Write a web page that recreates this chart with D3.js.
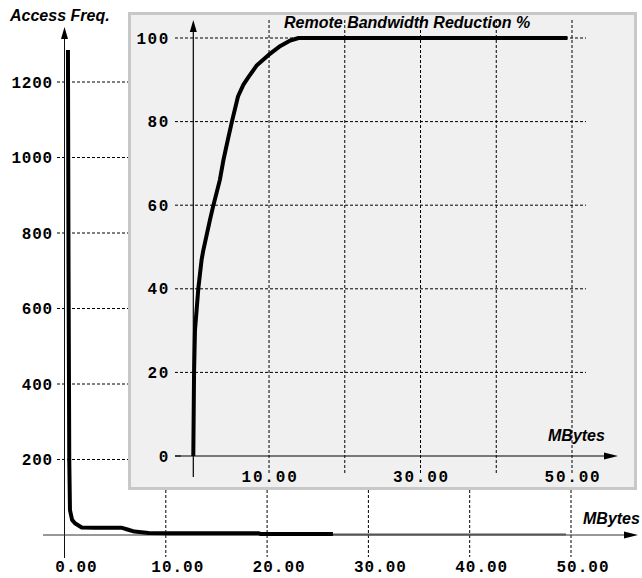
<!DOCTYPE html>
<html><head><meta charset="utf-8">
<script src="https://cdn.jsdelivr.net/npm/d3@7"></script>
<style>
body{margin:0;background:#fff;}
svg{display:block;}
.mono{font-family:"Liberation Mono","Courier New",monospace;font-weight:bold;font-size:16px;fill:#000;}
.ttl{font-family:"Liberation Sans",Arial,Helvetica,sans-serif;font-weight:bold;font-style:italic;font-size:16px;fill:#000;}
</style>
</head><body>
<script>
// ---- data ----
const outerXTicks = [0, 10, 20, 30, 40, 50];
const outerXTickLabels = ["0.00", "10.00", "20.00", "30.00", "40.00", "50.00"];
const outerYTicks = [200, 400, 600, 800, 1000, 1200];
const outerYTickLabels = ["200", "400", "600", "800", "1000", "1200"];
// Access frequency vs MBytes (main curve)
const freqMB   = [0.34, 0.40, 0.47, 0.54, 0.75, 1.03, 1.7, 3.0, 5.6, 6.3, 6.9, 8.3, 10.2, 19.2, 19.4, 26.5];
const freqVals = [1285, 700, 200, 66, 40, 31, 20, 19.5, 19.5, 14, 9, 5.5, 4.5, 4.5, 2.5, 2.5];
const tailMB   = [26.5, 49.5];
const tailVals = [1, 1];

const insetXGrid = [10, 20, 30, 40, 50];
const insetXTicks = [10, 30, 50];
const insetXTickLabels = ["10.00", "30.00", "50.00"];
const insetYTicks = [0, 20, 40, 60, 80, 100];
const insetYTickLabels = ["0", "20", "40", "60", "80", "100"];
// Remote bandwidth reduction % vs MBytes (inset curve)
const bwMB   = [0, 0.1, 0.22, 0.66, 1.1, 1.3, 2.2, 2.6, 3.5, 4.0, 4.6, 5.1, 5.9, 6.6, 7.3, 8.4, 9.9, 11.5, 12.8, 13.9, 49.4];
const bwVals = [0, 20, 30, 40, 47, 49, 56.5, 59.6, 66, 71, 76, 80, 86, 88.8, 90.7, 93.5, 95.9, 98.1, 99.4, 100, 100];

// ---- drawing ----
const W = 642, H = 578;
const svg = d3.select("body").append("svg").attr("width", W).attr("height", H);

const xO = d3.scaleLinear().domain([0, 50]).range([64.5, 571]);
const yO = d3.scaleLinear().domain([0, 1200]).range([535, 82]);
const xI = d3.scaleLinear().domain([0, 50]).range([193.3, 572]);
const yI = d3.scaleLinear().domain([0, 100]).range([456, 38]);

function arrowUp(g, x, y, col){ g.append("path").attr("d",`M${x},${y} L${x-3.5},${y+12} L${x+3.5},${y+12} Z`).attr("fill",col); }
function arrowRight(g, x, y, col){ g.append("path").attr("d",`M${x},${y} L${x-14},${y-3.5} L${x-14},${y+3.5} Z`).attr("fill",col); }

const outer = svg.append("g");
// outer horizontal grid
outer.selectAll(".hg").data(outerYTicks).enter().append("line")
  .attr("x1", 57).attr("x2", 140).attr("y1", d=>yO(d)).attr("y2", d=>yO(d))
  .attr("stroke","#000").attr("stroke-width",1).attr("stroke-dasharray","3,2");
// outer vertical grid
outer.selectAll(".vg").data(outerXTicks.slice(1)).enter().append("line")
  .attr("x1", d=>xO(d)).attr("x2", d=>xO(d)).attr("y1", 480).attr("y2", 557)
  .attr("stroke","#000").attr("stroke-width",1).attr("stroke-dasharray","3,2");
// outer axes
outer.append("line").attr("x1", xO(0)).attr("x2", xO(0)).attr("y1", 558).attr("y2", 36).attr("stroke","#111").attr("stroke-width",1);
arrowUp(outer, xO(0), 27, "#000");
outer.append("line").attr("x1", 43).attr("x2", 630).attr("y1", yO(0)).attr("y2", yO(0)).attr("stroke","#333").attr("stroke-width",1);
arrowRight(outer, 638, yO(0), "#000");
// outer labels
outer.selectAll(".yl").data(outerYTicks).enter().append("text").attr("class","mono")
  .attr("x", 53).attr("y", d=>yO(d)).attr("dy","0.35em").attr("text-anchor","end").attr("letter-spacing","0.8")
  .text((d,i)=>outerYTickLabels[i]);
outer.selectAll(".xl").data(outerXTicks).enter().append("text").attr("class","mono")
  .attr("x", d=>xO(d)+12).attr("y", 572).attr("text-anchor","middle").attr("letter-spacing","1")
  .text((d,i)=>outerXTickLabels[i]);
outer.append("text").attr("class","ttl").attr("x", 10).attr("y", 21).text("Access Freq.");
outer.append("text").attr("class","ttl").attr("x", 583).attr("y", 524).text("MBytes");
// outer curve
outer.append("path").datum(tailMB.map((m,i)=>[m,tailVals[i]]))
  .attr("d", d3.line().x(d=>xO(d[0])).y(d=>yO(d[1])))
  .attr("fill","none").attr("stroke","#555").attr("stroke-width",2);
outer.append("path").datum(freqMB.map((m,i)=>[m,freqVals[i]]))
  .attr("d", d3.line().x(d=>xO(d[0])).y(d=>yO(d[1])))
  .attr("fill","none").attr("stroke","#000").attr("stroke-width",4).attr("stroke-linejoin","round");

// inset
const inset = svg.append("g");
inset.append("rect").attr("x",129.5).attr("y",13.5).attr("width",506).attr("height",475)
  .attr("fill","#f0f0f0").attr("stroke","#c8c8c8").attr("stroke-width",3);
inset.selectAll(".ihg").data(insetYTicks.slice(1)).enter().append("line")
  .attr("x1", 175).attr("x2", 586).attr("y1", d=>yI(d)).attr("y2", d=>yI(d))
  .attr("stroke","#000").attr("stroke-width",1).attr("stroke-dasharray","3,2");
inset.selectAll(".ivg").data(insetXGrid).enter().append("line")
  .attr("x1", d=>xI(d)).attr("x2", d=>xI(d)).attr("y1", 20).attr("y2", 475)
  .attr("stroke","#000").attr("stroke-width",1).attr("stroke-dasharray","3,2");
inset.append("line").attr("x1", 175).attr("x2", 181).attr("y1", yI(0)).attr("y2", yI(0)).attr("stroke","#000");
inset.append("line").attr("x1", xI(0)).attr("x2", xI(0)).attr("y1", 477).attr("y2", 28).attr("stroke","#000").attr("stroke-width",1.2);
arrowUp(inset, xI(0), 20, "#000");
inset.append("line").attr("x1", 175).attr("x2", 610).attr("y1", yI(0)).attr("y2", yI(0)).attr("stroke","#000").attr("stroke-width",1.2);
arrowRight(inset, 618, yI(0), "#000");
inset.selectAll(".iyl").data(insetYTicks).enter().append("text").attr("class","mono")
  .attr("x", 170).attr("y", d=>yI(d)).attr("dy","0.35em").attr("text-anchor","end").attr("letter-spacing","1.6")
  .text((d,i)=>insetYTickLabels[i]);
inset.selectAll(".ixl").data(insetXTicks).enter().append("text").attr("class","mono")
  .attr("x", d=>xI(d)+1).attr("y", 482).attr("text-anchor","middle").attr("letter-spacing","1.8")
  .text((d,i)=>insetXTickLabels[i]);
inset.append("text").attr("class","ttl").attr("x", 284).attr("y", 28).text("Remote Bandwidth Reduction %");
inset.append("text").attr("class","ttl").attr("x", 548).attr("y", 441).text("MBytes");
inset.append("path").datum(bwMB.map((m,i)=>[m,bwVals[i]]))
  .attr("d", d3.line().x(d=>xI(d[0])).y(d=>yI(d[1])))
  .attr("fill","none").attr("stroke","#000").attr("stroke-width",4).attr("stroke-linejoin","round");
</script>
</body></html>
